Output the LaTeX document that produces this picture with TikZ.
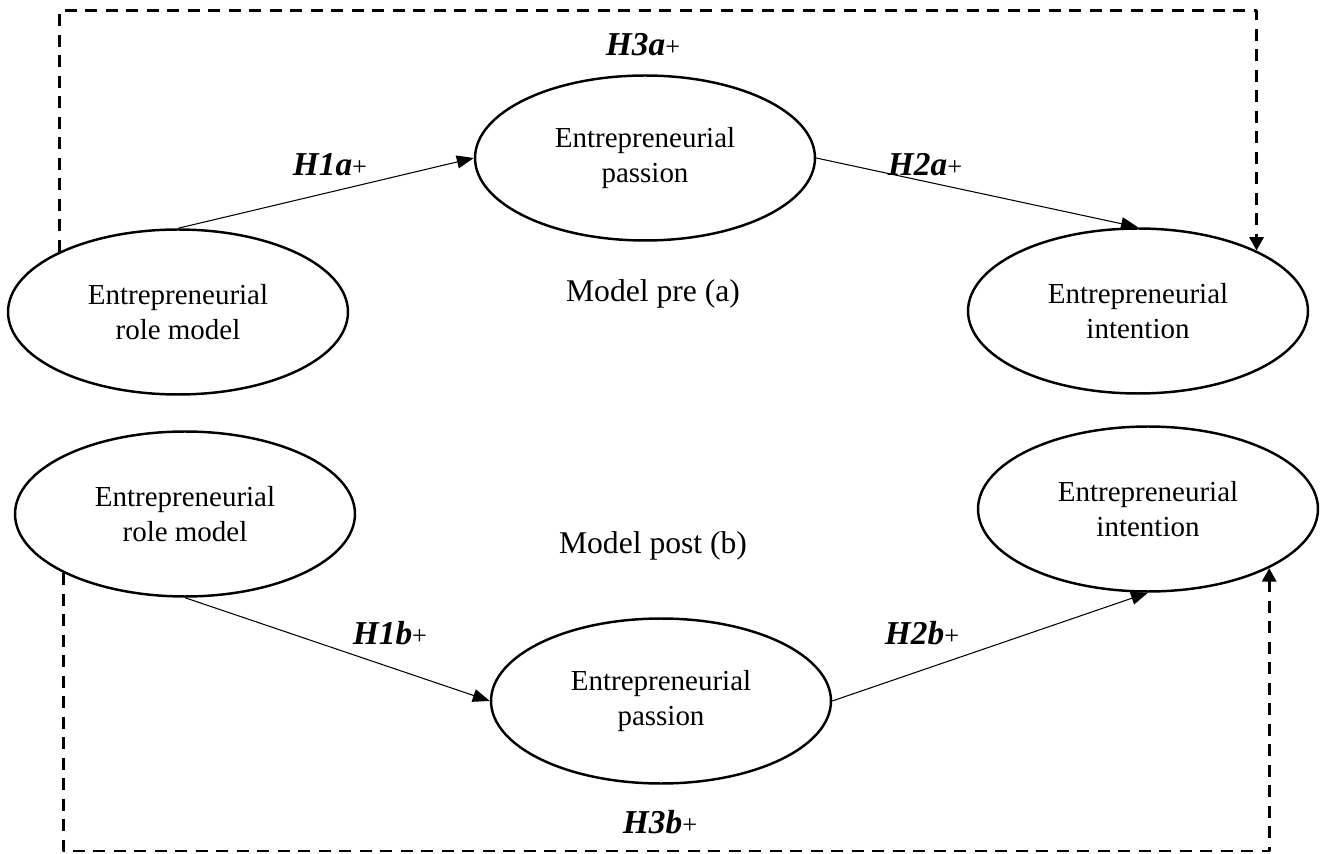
\documentclass[tikz,border=0pt]{standalone}
\usepackage{fontspec}
\setmainfont{Liberation Serif}
\usetikzlibrary{shapes.geometric,arrows.meta}

\tikzset{
  construct/.style={ellipse, draw, line width=1.4pt, inner sep=0pt,
    minimum width=6.8cm, minimum height=3.3cm, align=center,
    font=\fontsize{16.5}{19.5}\selectfont},
  hyp/.style={font=\fontsize{19}{22}\selectfont\bfseries\itshape},
  path/.style={line width=0.6pt, -{Triangle[length=0.34cm, width=0.26cm]}},
  mediation/.style={line width=1.7pt, dash pattern=on 0.24cm off 0.17cm,
    -{Triangle[length=0.27cm, width=0.28cm]}}
}
\newcommand{\hplus}{{\fontsize{15}{18}\selectfont\mdseries\upshape+}}

\begin{document}
\begin{tikzpicture}[x=0.02cm, y=-0.02cm, line join = round]
    \useasboundingbox (0,0) rectangle (1325,854);

    % model pre (a)
    \node[construct] (rm1) at (178,312) {Entrepreneurial\\role model};
    \node[construct] (pas1) at (645,158) {Entrepreneurial\\passion};
    \node[construct] (int1) at (1138,311) {Entrepreneurial\\intention};
    \node[font=\fontsize{18}{21}\selectfont] (pre) at (653,294) {Model pre (a)};

    \node[hyp] (h1a) at (330,165) {H1a\hplus};
    \node[hyp] (h2a) at (925,165) {H2a\hplus};
    \node[hyp] (h3a) at (643,45) {H3a\hplus};
    \coordinate (toprow) at (643,11);

    \draw[path] (rm1.north) -- (pas1.west);
    \draw[path] (pas1.east) -- (int1.north);
    \draw[mediation] (rm1.153) |- (toprow) -| (int1.27);

    % model post (b)
    \node[construct] (rm2) at (185,514) {Entrepreneurial\\role model};
    \node[construct] (pas2) at (661,701) {Entrepreneurial\\passion};
    \node[construct] (int2) at (1148,509) {Entrepreneurial\\intention};
    \node[font=\fontsize{18}{21}\selectfont] (post) at (653,546) {Model post (b)};

    \node[hyp] (h1b) at (390,633) {H1b\hplus};
    \node[hyp] (h2b) at (922,633) {H2b\hplus};
    \node[hyp] (h3b) at (660,822) {H3b\hplus};
    \coordinate (botrow) at (660,851);

    \draw[path] (rm2.south) -- (pas2.west);
    \draw[path] (pas2.east) -- (int2.south);
    \draw[mediation] (rm2.206) |- (botrow) -| (int2.334);
\end{tikzpicture}
\end{document}
